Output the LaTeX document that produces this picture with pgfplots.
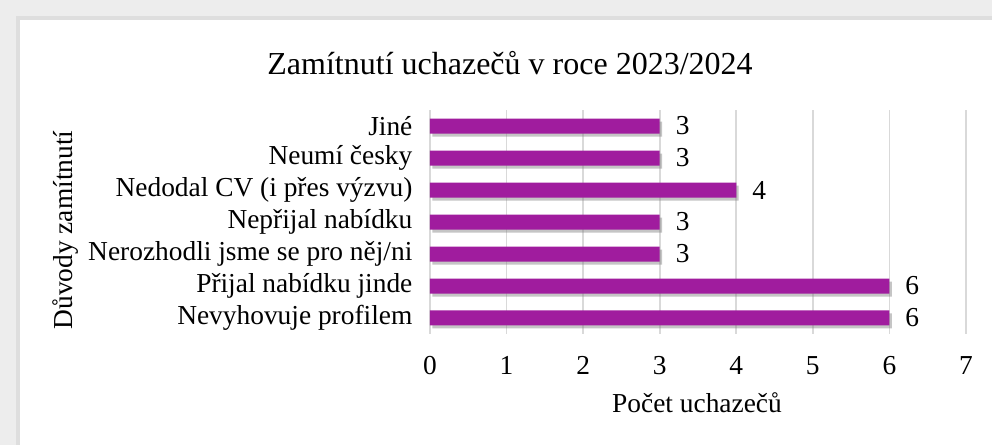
\documentclass[border=0pt]{standalone}
\usepackage{fontspec}
\setmainfont{Liberation Serif}
\usepackage{pgfplots}
\pgfplotsset{compat=1.18}
\usetikzlibrary{shadows}
\definecolor{barpurple}{RGB}{160,28,158}
\definecolor{gridgray}{RGB}{217,217,217}
\newcommand{\lblfont}{\fontsize{13.7}{16}\selectfont}

\begin{document}
\begin{tikzpicture}
% frame: grey surround and white panel (1px = 0.5pt)
\fill[gray!14] (0,0) rectangle (496pt,222.5pt);
\fill[gray!26] (8pt,0) rectangle (496pt,214.5pt);
\fill[white] (10pt,0) rectangle (496pt,212.5pt);

\node[font=\fontsize{16}{18}\selectfont] at (255pt,191pt) {Zamítnutí uchazečů v roce 2023/2024};
\node[font=\lblfont, rotate=90] at (33pt,107.5pt) {Důvody zamítnutí};
\node[font=\lblfont] at (348.5pt,21pt) {Počet uchazečů};

\begin{axis}[
    at={(215pt,55.5pt)}, anchor=south west,
    scale only axis,
    width=268pt, height=112pt,
    xbar, bar width=7.5pt,
    xmin=0, xmax=7, ymin=-0.5, ymax=6.5,
    xtick={0,...,7},
    ytick={0,...,6},
    yticklabels={Nevyhovuje profilem, Přijal nabídku jinde, Nerozhodli jsme se pro něj/ni,
                 Nepřijal nabídku, Nedodal CV (i přes výzvu), Neumí česky, Jiné},
    xmajorgrids, grid style={gridgray, line width=0.8pt},
    axis line style={draw=none},
    tick style={draw=none},
    /pgf/number format/assume math mode=true,
    ticklabel style={font=\lblfont},
    xticklabel style={yshift=-7.5pt},
    yticklabel style={xshift=-1pt},
    nodes near coords,
    nodes near coords style={font=\lblfont, xshift=4.5pt, black},
]
\addplot[fill=barpurple, draw=none,
    drop shadow={shadow xshift=1.2pt, shadow yshift=-1.5pt, opacity=0.45, fill=gray}]
    coordinates {(6,0) (6,1) (3,2) (3,3) (4,4) (3,5) (3,6)};
\end{axis}
\end{tikzpicture}
\end{document}
